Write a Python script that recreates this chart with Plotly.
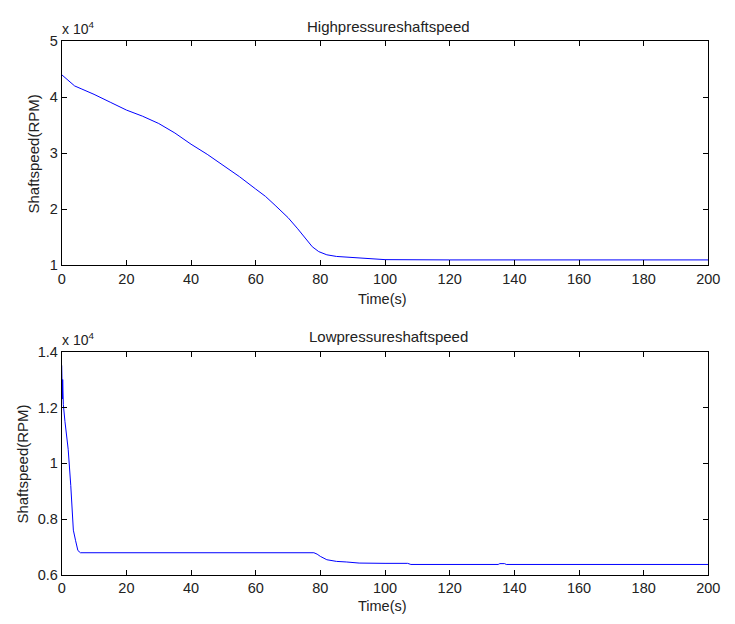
import plotly.graph_objects as go

# ---- data ----
hp_time = [0, 2, 4, 6, 10, 15, 20, 25, 30, 35, 40, 45, 50, 55, 60, 63, 66, 70, 73, 75.5, 77.5, 79.5, 82, 85, 88, 92, 96, 100, 120, 140, 160, 180, 200]
hp_speed = [44000, 43000, 42000, 41500, 40500, 39100, 37700, 36600, 35300, 33600, 31600, 29800, 27800, 25800, 23600, 22300, 20700, 18500, 16500, 14750, 13300, 12430, 11860, 11570, 11450, 11250, 11080, 11000, 10950, 10950, 10950, 10950, 10950]

lp_time = [0, 0.1, 0.2, 0.3, 0.4, 0.5, 1.0, 2.0, 2.8, 3.2, 3.6, 4.3, 5.0, 5.8, 20, 40, 60, 78, 79, 80, 82, 85, 88, 92, 100, 107, 108, 120, 135, 135.5, 137, 137.5, 160, 180, 200]
lp_speed = [13510, 13000, 12300, 13000, 12300, 12100, 11500, 10500, 9200, 8500, 7600, 7220, 6870, 6790, 6790, 6790, 6790, 6790, 6740, 6660, 6540, 6480, 6460, 6420, 6410, 6410, 6370, 6370, 6370, 6400, 6400, 6370, 6370, 6370, 6370]

x_ticks = [0, 20, 40, 60, 80, 100, 120, 140, 160, 180, 200]
hp_yticks = [10000, 20000, 30000, 40000, 50000]
hp_yticktext = ["1", "2", "3", "4", "5"]
lp_yticks = [6000, 8000, 10000, 12000, 14000]
lp_yticktext = ["0.6", "0.8", "1", "1.2", "1.4"]

titles = ["Highpressureshaftspeed", "Lowpressureshaftspeed"]
xlabel = "Time(s)"
ylabel = "Shaftspeed(RPM)"

W, H = 735, 624
FONT = "Liberation Sans, Arial, sans-serif"
TXT = "#222222"

fig = go.Figure()
fig.add_trace(go.Scatter(x=hp_time, y=hp_speed, mode="lines",
                         line=dict(color="#0000ff", width=1), xaxis="x", yaxis="y", showlegend=False))
fig.add_trace(go.Scatter(x=lp_time, y=lp_speed, mode="lines",
                         line=dict(color="#0000ff", width=1), xaxis="x2", yaxis="y2", showlegend=False))

def px_x(p):
    return p / W

def px_y(p):
    return 1 - p / H

xdom = [px_x(59), px_x(720)]
top_dom = [px_y(264), px_y(34)]
bot_dom = [px_y(581.7), px_y(352.7)]

axis_common = dict(showgrid=False, zeroline=False, showline=True, linecolor="black", linewidth=1,
                   mirror="ticks", ticks="inside", ticklen=5, tickcolor="black",
                   tickfont=dict(family=FONT, size=14.5, color=TXT))

fig.update_layout(
    width=W, height=H, autosize=False, margin=dict(l=0, r=0, t=0, b=0, pad=0),
    paper_bgcolor="white", plot_bgcolor="white",
    xaxis=dict(domain=xdom, range=[0, 200], tickvals=x_ticks, anchor="y", **axis_common),
    yaxis=dict(domain=top_dom, range=[10000, 50000], tickvals=hp_yticks, ticktext=hp_yticktext,
               anchor="x", **axis_common),
    xaxis2=dict(domain=xdom, range=[0, 200], tickvals=x_ticks, anchor="y2", **axis_common),
    yaxis2=dict(domain=bot_dom, range=[6000, 14000], tickvals=lp_yticks, ticktext=lp_yticktext,
                anchor="x2", **axis_common),
)

ann = []
def add(text, x, y, size=15, angle=0, xanchor="center", yanchor="middle"):
    ann.append(dict(text=text, x=px_x(x), y=px_y(y), xref="paper", yref="paper", showarrow=False,
                    textangle=angle, xanchor=xanchor, yanchor=yanchor,
                    font=dict(family=FONT, size=size, color=TXT)))

add(titles[0], 393, 19, size=15)
add(titles[1], 393, 337, size=15)
add(xlabel, 387, 299, size=14.5)
add(xlabel, 387, 614, size=14.5)
add(ylabel, 30, 150, size=15, angle=-90)
add(ylabel, 18, 468, size=15, angle=-90)
add("x 10<sup>4</sup>", 57, 21, size=14, xanchor="left")
add("x 10<sup>4</sup>", 57, 340, size=14, xanchor="left")
fig.update_layout(annotations=ann)

fig.write_html("out.html", config=dict(displayModeBar=False, responsive=False),
               post_script="document.documentElement.style.overflow='hidden';document.body.style.margin='0';document.body.style.padding='0';")
